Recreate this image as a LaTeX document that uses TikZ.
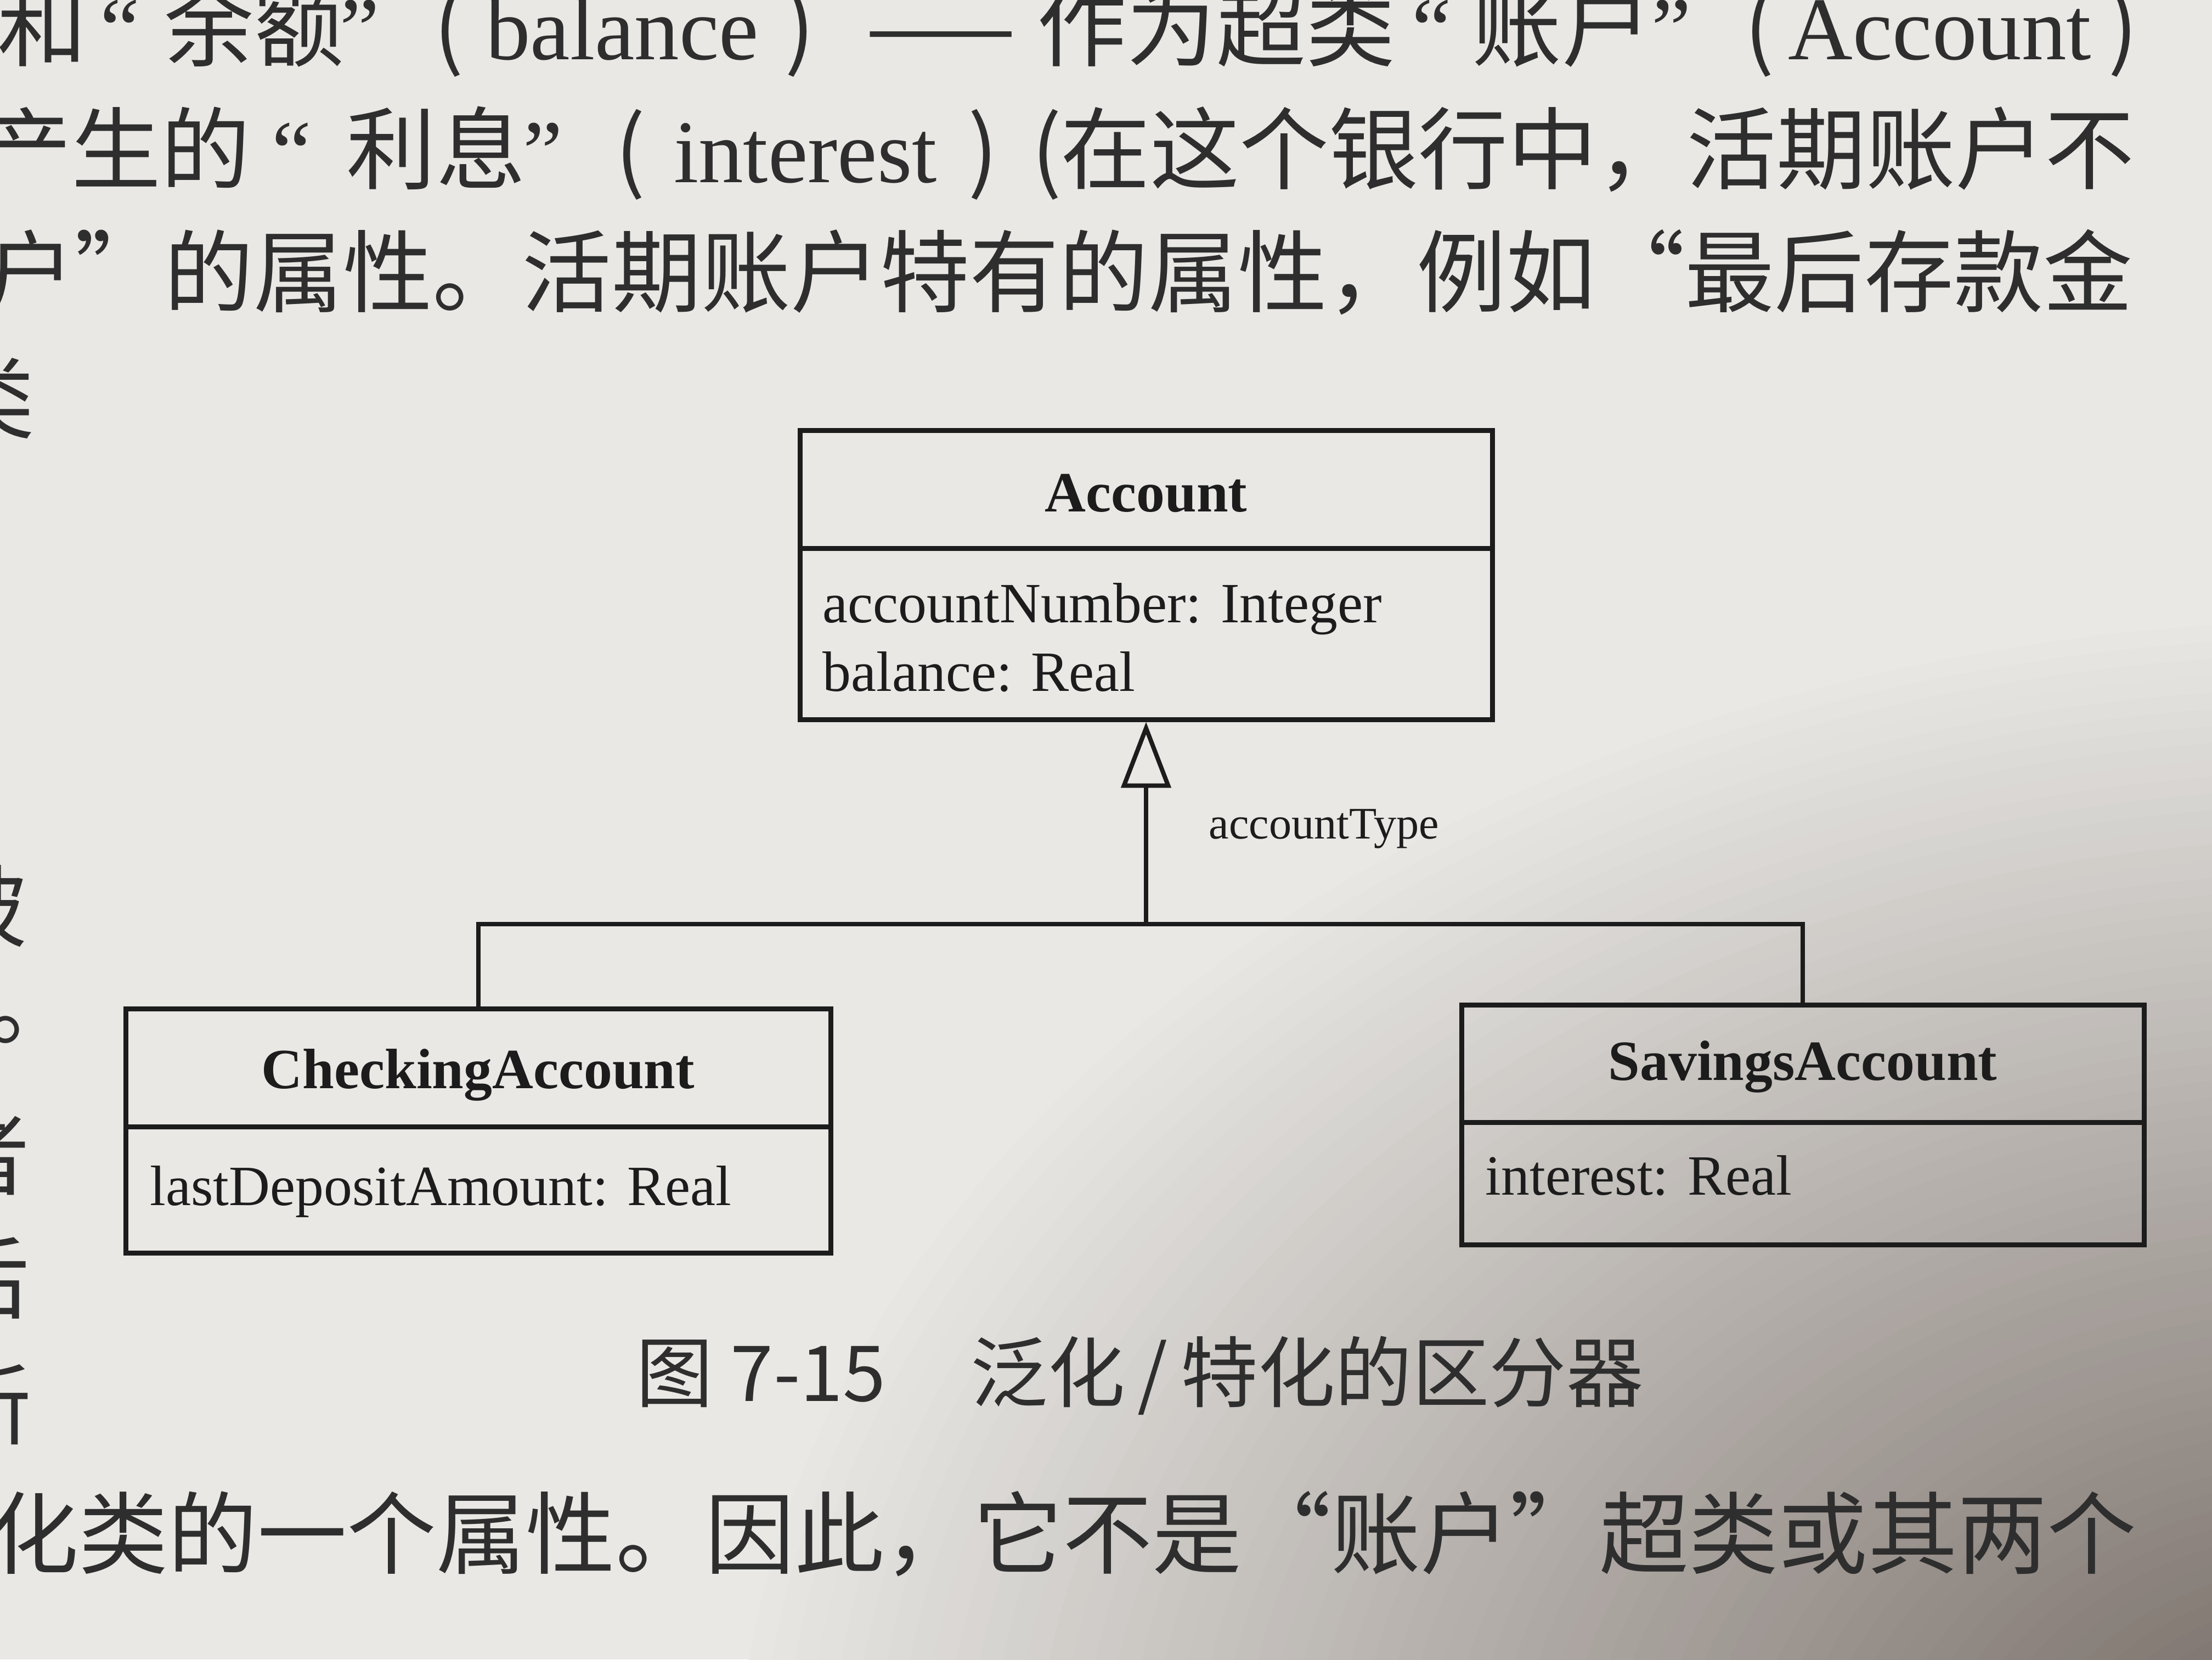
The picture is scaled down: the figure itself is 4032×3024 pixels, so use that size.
\documentclass[tikz,border=0pt]{standalone}
\usepackage{fontspec}
\setmainfont{Liberation Serif}
\newfontfamily\bodycjk{Noto Sans CJK SC}
\newfontfamily\bodylat{Liberation Serif}
\usetikzlibrary{arrows.meta}

\definecolor{paper}{HTML}{E9E8E5}
\definecolor{ink}{HTML}{1C1C1C}
\definecolor{printink}{HTML}{2E2E2E}
\definecolor{shadeA}{HTML}{6E635D}

\tikzset{
  classbox/.style={draw=ink, line width=0.9mm, inner sep=0pt},
  titlecell/.style={inner sep=0pt},
  titletext/.style={inner sep=0pt, text=ink,
    font=\fontsize{29.5}{35}\selectfont\bfseries},
  attr/.style={inner sep=0pt, anchor=west, text=ink,
    font=\fontsize{29.5}{35}\selectfont},
  conn/.style={draw=ink, line width=0.8mm},
  gen/.style={-{Triangle[open, length=12mm, width=9mm, line width=0.8mm]}},
  bodyline/.style={inner sep=0pt, text=printink,
    font=\bodycjk\fontsize{46.4}{50}\selectfont},
  tok/.style={bodyline, anchor=base},
  lattok/.style={inner sep=0pt, anchor=base, text=printink,
    font=\bodylat\fontsize{46.4}{50}\selectfont},
  captionline/.style={inner sep=0pt, text=printink,
    font=\bodycjk\fontsize{40}{46}\selectfont},
}

\begin{document}
\begin{tikzpicture}[x=0.1mm, y=-0.1mm]
\useasboundingbox (0,0) rectangle (4032,3024);
\clip (0,0) rectangle (4032,3024);

% paper, darkening smoothly towards the lower right corner
\fill[paper] (0,0) rectangle (4032,3024);
\foreach \i in {1,...,70} {
  \pgfmathsetmacro\d{1-\i/72}
  \pgfmathsetmacro\p{100*\i/72}
  \fill[shadeA!\p!paper] (4300,3300) ellipse [x radius=\d*300mm, y radius=\d*220mm];
}

% running text above the figure, first line
\node[tok] (l1a) at (77,108) {和};
\node[lattok] (l1b) at (219,108) {“};
\node[tok] (l1c) at (463,108) {余额};
\node[lattok] (l1d) at (656,108) {”};
\node[tok] (l1e) at (818,108) {(};
\node[lattok] (l1f) at (1134,108) {balance};
\node[tok] (l1g) at (1458,108) {)};
\node[tok] (l1h) at (1715,108) {——};
\node[tok] (l1i) at (2217,108) {作为超类};
\node[lattok] (l1j) at (2610,108) {“};
\node[tok] (l1k) at (2847,108) {账户};
\node[lattok] (l1l) at (3047,108) {”};
\node[tok] (l1m) at (3207,108) {(};
\node[lattok] (l1n) at (3536,108) {Account};
\node[tok] (l1o) at (3870,108) {)};

% second line
\node[tok] (l2a) at (212,332) {产生的};
\node[lattok] (l2b) at (532,332) {“};
\node[tok] (l2c) at (795,332) {利息};
\node[lattok] (l2d) at (990,332) {”};
\node[tok] (l2e) at (1149,332) {(};
\node[lattok] (l2f) at (1468,332) {interest};
\node[tok] (l2g) at (1792,332) {)};
\node[tok] (l2h) at (1908,332) {(};
\node[tok, anchor=base east] (l2i) at (3891,332) {在这个银行中，活期账户不};

% third and fourth lines
\node[bodyline, anchor=east] (l3) at (3888,496)
  {户”的属性。活期账户特有的属性，例如“最后存款金};
\node[bodyline, anchor=east] (l4) at (64,725) {类};

% line starts at the left edge
\node[bodyline, anchor=east] (m1) at (50,1651) {被};
\node[bodyline, anchor=west] (m2) at (-22,1877) {。};
\node[bodyline, anchor=east] (m3) at (55,2103) {者};
\node[bodyline, anchor=east] (m4) at (55,2329) {后};
\node[bodyline, anchor=east] (m5) at (58,2558) {新};

% superclass
\node[classbox, minimum width=126.2mm, minimum height=52.7mm] (acct) at (2089,1047.5) {};
\node[titlecell, minimum width=126.2mm, minimum height=21.9mm, anchor=north] (acctT) at (acct.north) {};
\node[titletext] (acctN) at ([yshift=-0.9mm]acctT.center) {Account};
\draw[conn, line width=0.9mm] (acctT.south west) -- (acctT.south east);
\node[attr] (acctA1) at (1499,1110) {accountNumber: Integer};
\node[attr] (acctA2) at (1499,1224) {balance: Real};

% subclasses
\node[classbox, minimum width=128.5mm, minimum height=44.5mm] (chk) at (871.5,2060.5) {};
\node[titlecell, minimum width=128.5mm, minimum height=21.9mm, anchor=north] (chkT) at (chk.north) {};
\node[titletext] (chkN) at ([yshift=-1.5mm]chkT.center) {CheckingAccount};
\draw[conn, line width=0.9mm] (chkT.south west) -- (chkT.south east);
\node[attr] (chkA1) at (273,2172) {lastDepositAmount: Real};

\node[classbox, minimum width=124.4mm, minimum height=43.7mm] (sav) at (3286,2049.5) {};
\node[titlecell, minimum width=124.4mm, minimum height=21.8mm, anchor=north] (savT) at (sav.north) {};
\node[titletext] (savN) at ([yshift=-0.8mm]savT.center) {SavingsAccount};
\draw[conn, line width=0.9mm] (savT.south west) -- (savT.south east);
\node[attr] (savA1) at (2707,2142) {interest: Real};

% generalization tree
\coordinate (bus) at (acct.south |- 0,1684);
\draw[conn] (chk.north) |- (bus) -| (sav.north);
\draw[conn, gen] (bus) -- (acct.south);
\node[inner sep=0pt, anchor=west, text=ink, font=\fontsize{23.4}{28}\selectfont] (disc) at (2203,1510) {accountType};

% caption and following text
\node[captionline] (cap) at (2078,2507) {图 7-15\hspace{1.1em}泛化\,/\,特化的区分器};
\node[bodyline, anchor=east] (l5) at (3895,2795)
  {化类的一个属性。因此，它不是“账户”超类或其两个};
\end{tikzpicture}
\end{document}
